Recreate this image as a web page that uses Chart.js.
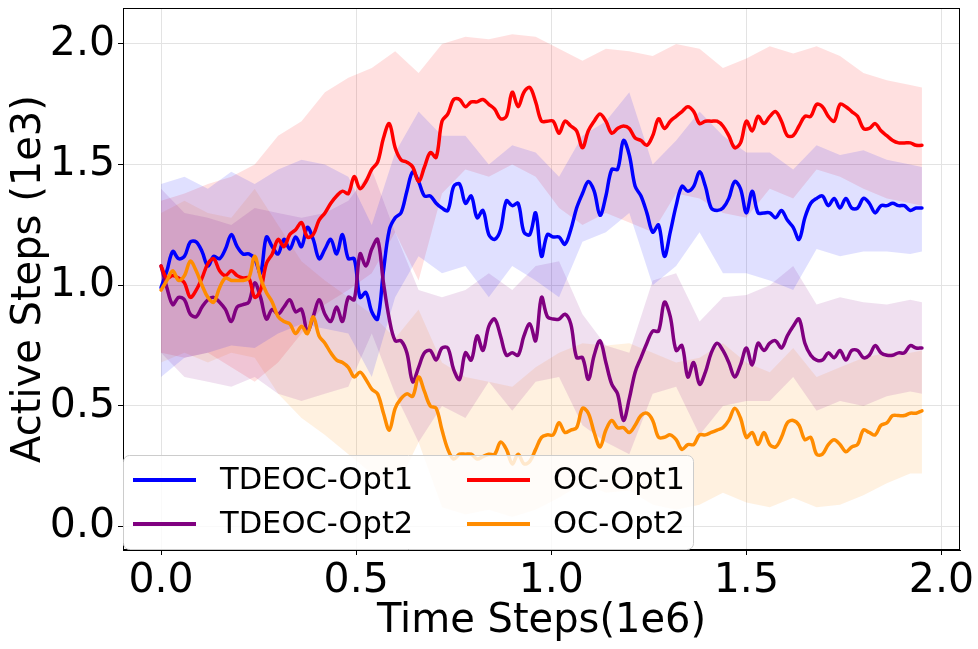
<!DOCTYPE html>
<html>
<head>
<meta charset="utf-8">
<script src="https://cdn.jsdelivr.net/npm/chart.js@4.4.1/dist/chart.umd.min.js"></script>
<style>
  html, body { margin: 0; padding: 0; background: #fff; }
  #wrap { width: 978px; height: 649px; }
</style>
</head>
<body>
<div id="wrap"><canvas id="stepsChart" width="978" height="649"></canvas></div>
<script>
// ---- data (time steps in 1e6, active steps in 1e3) ----
const seriesNames = ['TDEOC-Opt1', 'TDEOC-Opt2', 'OC-Opt1', 'OC-Opt2'];
const xTicks = [0, 0.5, 1.0, 1.5, 2.0];
const yTicks = [0, 0.5, 1.0, 1.5, 2.0];

// sample positions, one every 0.015e6 steps
const steps = Array.from({ length: 131 }, (_, i) => +(i * 0.015).toFixed(3));

const tdeocOpt1 = [0.99, 1.06, 1.14, 1.11, 1.12, 1.18, 1.18, 1.14, 1.08, 1.12, 1.11, 1.15, 1.21, 1.16, 1.13, 1.13, 1.11, 1.05, 1.20, 1.16, 1.13, 1.19, 1.15, 1.20,
  1.16, 1.24, 1.19, 1.11, 1.15, 1.19, 1.13, 1.21, 1.11, 1.11, 0.95, 0.97, 0.89, 0.86, 1.06, 1.23, 1.28, 1.30, 1.39, 1.47, 1.43, 1.37, 1.37, 1.34, 1.32,
  1.31, 1.41, 1.42, 1.34, 1.37, 1.28, 1.31, 1.21, 1.19, 1.23, 1.35, 1.33, 1.34, 1.22, 1.21, 1.30, 1.12, 1.21, 1.20, 1.20, 1.17, 1.23, 1.32, 1.38, 1.43,
  1.39, 1.29, 1.37, 1.48, 1.48, 1.60, 1.54, 1.41, 1.37, 1.30, 1.22, 1.25, 1.12, 1.22, 1.33, 1.41, 1.39, 1.41, 1.47, 1.41, 1.32, 1.31, 1.32, 1.36, 1.43,
  1.40, 1.30, 1.39, 1.30, 1.30, 1.30, 1.28, 1.31, 1.27, 1.24, 1.19, 1.28, 1.34, 1.36, 1.37, 1.33, 1.36, 1.32, 1.36, 1.32, 1.32, 1.36, 1.34, 1.30,
  1.33, 1.33, 1.34, 1.33, 1.33, 1.31, 1.32, 1.32];

const tdeocOpt2 = [1.08, 0.99, 0.92, 0.95, 0.94, 0.88, 0.87, 0.91, 0.94, 0.95, 0.93, 0.90, 0.85, 0.91, 0.92, 0.93, 1.01, 0.95, 0.86, 0.90, 0.88, 0.91, 0.94, 0.89,
  0.90, 0.81, 0.87, 0.94, 0.88, 0.85, 0.91, 0.85, 0.95, 0.94, 1.13, 1.08, 1.15, 1.19, 1.01, 0.86, 0.77, 0.77, 0.72, 0.60, 0.66, 0.72, 0.73, 0.69, 0.74,
  0.74, 0.65, 0.61, 0.72, 0.69, 0.79, 0.73, 0.83, 0.86, 0.79, 0.71, 0.72, 0.71, 0.79, 0.84, 0.77, 0.95, 0.87, 0.86, 0.86, 0.88, 0.84, 0.70, 0.70, 0.61,
  0.71, 0.77, 0.68, 0.59, 0.55, 0.44, 0.53, 0.64, 0.70, 0.76, 0.81, 0.81, 0.93, 0.87, 0.73, 0.75, 0.62, 0.68, 0.59, 0.64, 0.72, 0.76, 0.73, 0.68, 0.62,
  0.67, 0.74, 0.67, 0.76, 0.73, 0.76, 0.77, 0.74, 0.79, 0.83, 0.86, 0.76, 0.71, 0.69, 0.69, 0.72, 0.70, 0.73, 0.69, 0.73, 0.73, 0.70, 0.71, 0.75,
  0.72, 0.71, 0.71, 0.72, 0.72, 0.75, 0.74, 0.74];

const ocOpt1 = [1.08, 1.03, 1.04, 1.03, 1.01, 0.95, 0.98, 1.03, 1.09, 1.11, 1.06, 1.04, 1.06, 1.04, 1.03, 1.03, 0.95, 0.98, 1.09, 1.13, 1.19, 1.16, 1.21, 1.23,
  1.26, 1.20, 1.21, 1.27, 1.30, 1.34, 1.37, 1.39, 1.38, 1.45, 1.40, 1.43, 1.48, 1.51, 1.61, 1.67, 1.57, 1.52, 1.51, 1.49, 1.43, 1.49, 1.55, 1.53, 1.68,
  1.71, 1.77, 1.77, 1.74, 1.76, 1.76, 1.77, 1.75, 1.73, 1.69, 1.70, 1.80, 1.74, 1.80, 1.82, 1.76, 1.68, 1.68, 1.68, 1.63, 1.68, 1.66, 1.64, 1.57, 1.64,
  1.68, 1.71, 1.68, 1.63, 1.65, 1.66, 1.65, 1.61, 1.60, 1.58, 1.62, 1.69, 1.65, 1.68, 1.70, 1.72, 1.74, 1.72, 1.67, 1.68, 1.68, 1.68, 1.66, 1.62, 1.57,
  1.59, 1.68, 1.64, 1.70, 1.67, 1.70, 1.72, 1.68, 1.62, 1.62, 1.66, 1.70, 1.70, 1.75, 1.74, 1.70, 1.68, 1.75, 1.74, 1.72, 1.70, 1.65, 1.65, 1.67,
  1.64, 1.62, 1.60, 1.59, 1.59, 1.59, 1.58, 1.58];

const ocOpt2 = [0.98, 1.02, 1.06, 1.02, 1.04, 1.10, 1.06, 1.00, 0.95, 0.93, 0.99, 1.03, 1.02, 1.02, 1.02, 1.03, 1.12, 1.03, 0.97, 0.93, 0.87, 0.85, 0.84, 0.80,
  0.83, 0.80, 0.87, 0.79, 0.76, 0.72, 0.69, 0.68, 0.66, 0.62, 0.64, 0.61, 0.57, 0.55, 0.47, 0.40, 0.49, 0.53, 0.55, 0.54, 0.62, 0.56, 0.50, 0.49, 0.40,
  0.32, 0.28, 0.30, 0.30, 0.30, 0.28, 0.29, 0.30, 0.30, 0.35, 0.32, 0.26, 0.30, 0.26, 0.27, 0.32, 0.37, 0.38, 0.38, 0.43, 0.39, 0.40, 0.41, 0.49, 0.47,
  0.39, 0.33, 0.40, 0.44, 0.41, 0.41, 0.39, 0.42, 0.46, 0.47, 0.44, 0.37, 0.37, 0.38, 0.36, 0.32, 0.34, 0.34, 0.38, 0.38, 0.39, 0.40, 0.41, 0.44, 0.49,
  0.45, 0.37, 0.39, 0.34, 0.39, 0.34, 0.33, 0.37, 0.43, 0.44, 0.42, 0.36, 0.37, 0.30, 0.30, 0.34, 0.36, 0.34, 0.31, 0.33, 0.34, 0.40, 0.39, 0.38,
  0.42, 0.43, 0.46, 0.46, 0.46, 0.47, 0.47, 0.48];

// shaded spread, sampled coarser
const bandSteps = [0, 0.06, 0.12, 0.18, 0.24, 0.30, 0.36, 0.42, 0.48, 0.54, 0.60, 0.66, 0.72, 0.78, 0.84, 0.90, 0.96,
  1.02, 1.08, 1.14, 1.20, 1.26, 1.32, 1.38, 1.44, 1.50, 1.56, 1.62, 1.68, 1.74, 1.80, 1.86, 1.92, 1.95];

const tdeocOpt1Upper = [1.42, 1.45, 1.40, 1.47, 1.42, 1.48, 1.52, 1.50, 1.45, 1.25, 1.55, 1.72, 1.62, 1.62, 1.50, 1.58, 1.55,
  1.45, 1.62, 1.68, 1.80, 1.50, 1.60, 1.72, 1.62, 1.55, 1.55, 1.48, 1.58, 1.54, 1.56, 1.52, 1.50, 1.49];
const tdeocOpt1Lower = [0.62, 0.70, 0.72, 0.75, 0.74, 0.80, 0.84, 0.82, 0.80, 0.62, 0.95, 1.12, 1.05, 1.08, 0.95, 1.08, 1.02,
  0.95, 1.18, 1.22, 1.30, 1.00, 1.08, 1.22, 1.05, 1.05, 1.02, 0.98, 1.15, 1.12, 1.14, 1.14, 1.13, 1.14];

const tdeocOpt2Upper = [1.40, 1.30, 1.28, 1.25, 1.32, 1.30, 1.28, 1.30, 1.35, 1.48, 1.22, 0.98, 0.95, 0.98, 1.05, 0.98, 1.08,
  1.10, 0.88, 0.75, 0.72, 1.02, 1.05, 0.85, 0.95, 0.96, 1.00, 1.08, 0.92, 0.95, 0.93, 0.92, 0.94, 0.93];
const tdeocOpt2Lower = [0.72, 0.62, 0.60, 0.58, 0.62, 0.55, 0.52, 0.55, 0.58, 0.80, 0.55, 0.35, 0.50, 0.45, 0.60, 0.48, 0.60,
  0.62, 0.42, 0.35, 0.30, 0.55, 0.58, 0.38, 0.50, 0.52, 0.52, 0.62, 0.48, 0.52, 0.50, 0.54, 0.56, 0.55];

const ocOpt1Upper = [1.35, 1.38, 1.42, 1.45, 1.50, 1.62, 1.68, 1.80, 1.86, 1.90, 1.97, 1.88, 2.00, 2.03, 2.02, 2.04, 2.03,
  1.98, 1.93, 1.98, 1.97, 1.95, 2.00, 1.98, 1.90, 1.94, 1.99, 1.96, 1.99, 1.95, 1.88, 1.85, 1.83, 1.82];
const ocOpt1Lower = [0.72, 0.70, 0.72, 0.66, 0.60, 0.68, 0.80, 0.92, 0.98, 1.05, 1.22, 1.02, 1.38, 1.48, 1.45, 1.50, 1.45,
  1.32, 1.25, 1.30, 1.26, 1.22, 1.38, 1.36, 1.30, 1.28, 1.40, 1.36, 1.48, 1.45, 1.40, 1.36, 1.34, 1.33];

const ocOpt2Upper = [1.30, 1.35, 1.30, 1.28, 1.40, 1.25, 1.10, 1.02, 0.95, 0.88, 0.78, 0.90, 0.68, 0.62, 0.60, 0.58, 0.66,
  0.72, 0.76, 0.75, 0.76, 0.72, 0.68, 0.70, 0.76, 0.68, 0.64, 0.74, 0.62, 0.66, 0.70, 0.72, 0.72, 0.73];
const ocOpt2Lower = [0.68, 0.72, 0.68, 0.72, 0.70, 0.55, 0.45, 0.38, 0.30, 0.22, 0.15, 0.35, 0.08, 0.05, 0.07, 0.04, 0.07,
  0.12, 0.18, 0.14, 0.15, 0.09, 0.07, 0.09, 0.14, 0.10, 0.08, 0.12, 0.08, 0.09, 0.13, 0.18, 0.22, 0.22];

// ---- chart ----
const FONT = 'DejaVu Sans';

const series = [
  { name: seriesNames[0], mean: tdeocOpt1, upper: tdeocOpt1Upper, lower: tdeocOpt1Lower, color: '#0000ff', band: 'rgba(0,0,255,0.12)' },
  { name: seriesNames[1], mean: tdeocOpt2, upper: tdeocOpt2Upper, lower: tdeocOpt2Lower, color: '#800080', band: 'rgba(128,0,128,0.12)' },
  { name: seriesNames[2], mean: ocOpt1, upper: ocOpt1Upper, lower: ocOpt1Lower, color: '#ff0000', band: 'rgba(255,0,0,0.12)' },
  { name: seriesNames[3], mean: ocOpt2, upper: ocOpt2Upper, lower: ocOpt2Lower, color: '#ff8c00', band: 'rgba(255,140,0,0.12)' }
];

function toPoints(xs, ys) {
  return ys.map((y, i) => ({ x: xs[i], y: y }));
}

const datasets = [];
series.forEach(function (s) {
  datasets.push({
    label: s.name + ' upper', data: toPoints(bandSteps, s.upper),
    borderColor: 'rgba(0,0,0,0)', borderWidth: 0, pointRadius: 0,
    backgroundColor: s.band, fill: '+1', tension: 0, order: 10
  });
  datasets.push({
    label: s.name + ' lower', data: toPoints(bandSteps, s.lower),
    borderColor: 'rgba(0,0,0,0)', borderWidth: 0, pointRadius: 0,
    fill: false, tension: 0, order: 10
  });
});
series.forEach(function (s, k) {
  datasets.push({
    label: s.name, data: toPoints(steps, s.mean),
    borderColor: s.color, backgroundColor: s.color, borderWidth: 3.5,
    pointRadius: 0, fill: false, tension: 0.35, order: 4 - k,
    borderCapStyle: 'round', borderJoinStyle: 'round'
  });
});

// black frame around the plot area
const framePlugin = {
  id: 'frame',
  afterDatasetsDraw(chart) {
    const { ctx, chartArea: a } = chart;
    ctx.save();
    ctx.strokeStyle = '#000';
    ctx.lineWidth = 1;
    ctx.strokeRect(a.left + 0.5, a.top + 0.5, a.right - a.left - 1, a.bottom - a.top - 1);
    ctx.restore();
  }
};

// legend box in the lower-left corner of the axes
const insideLegend = {
  id: 'insideLegend',
  afterDraw(chart) {
    const { ctx, chartArea: a } = chart;
    const x0 = a.left, y0 = 455, w = 570, h = a.bottom - 1 - y0;
    ctx.save();
    ctx.beginPath();
    ctx.roundRect(x0 + 0.5, y0 + 0.5, w, h, 6);
    ctx.fillStyle = 'rgba(255,255,255,0.8)';
    ctx.fill();
    ctx.strokeStyle = '#cccccc';
    ctx.lineWidth = 1;
    ctx.stroke();

    const cols = [{ lx: 133, tx: 220 }, { lx: 467, tx: 553 }];
    const rows = [480, 524];
    ctx.font = '30.5px "' + FONT + '"';
    ctx.textBaseline = 'middle';
    ctx.textAlign = 'left';
    series.forEach(function (s, k) {
      const c = cols[Math.floor(k / 2)], r = rows[k % 2];
      ctx.strokeStyle = s.color;
      ctx.lineWidth = 4;
      ctx.beginPath();
      ctx.moveTo(c.lx, r);
      ctx.lineTo(c.lx + 63, r);
      ctx.stroke();
      ctx.fillStyle = '#000';
      ctx.fillText(s.name, c.tx, r + 1);
    });
    ctx.restore();
  }
};

const ctx = document.getElementById('stepsChart').getContext('2d');
new Chart(ctx, {
  type: 'line',
  data: { datasets: datasets },
  options: {
    responsive: false,
    animation: false,
    devicePixelRatio: 1,
    layout: { padding: { top: 8, right: 18, left: 0, bottom: 0 } },
    plugins: {
      legend: { display: false },
      tooltip: { enabled: false }
    },
    scales: {
      x: {
        type: 'linear',
        min: -0.0975,
        max: 2.0475,
        afterBuildTicks: function (s) { s.ticks = xTicks.map(v => ({ value: v })); },
        afterFit: function (s) { s.height = 99; s.paddingLeft = 0; s.paddingRight = 0; },
        ticks: {
          color: '#000', font: { family: FONT, size: 41 }, padding: 2,
          maxRotation: 0, autoSkip: false,
          callback: v => Number(v).toFixed(1)
        },
        grid: { color: '#e3e3e3', lineWidth: 1, tickColor: '#000', tickLength: 5 },
        border: { color: '#000', width: 1 },
        title: {
          display: true, text: 'Time Steps(1e6)', color: '#000',
          font: { family: FONT, size: 40 }, padding: { top: 0, bottom: 3 }
        }
      },
      y: {
        type: 'linear',
        min: -0.097,
        max: 2.149,
        afterBuildTicks: function (s) { s.ticks = yTicks.map(v => ({ value: v })); },
        afterFit: function (s) { s.width = 123; s.paddingTop = 0; s.paddingBottom = 0; },
        ticks: {
          color: '#000', font: { family: FONT, size: 41 }, padding: 3,
          autoSkip: false,
          callback: v => Number(v).toFixed(1)
        },
        grid: { color: '#e3e3e3', lineWidth: 1, tickColor: '#000', tickLength: 5 },
        border: { color: '#000', width: 1 },
        title: {
          display: true, text: 'Active Steps (1e3)', color: '#000',
          font: { family: FONT, size: 40 }, padding: { top: 6, bottom: 0 }
        }
      }
    }
  },
  plugins: [framePlugin, insideLegend]
});
</script>
</body>
</html>
